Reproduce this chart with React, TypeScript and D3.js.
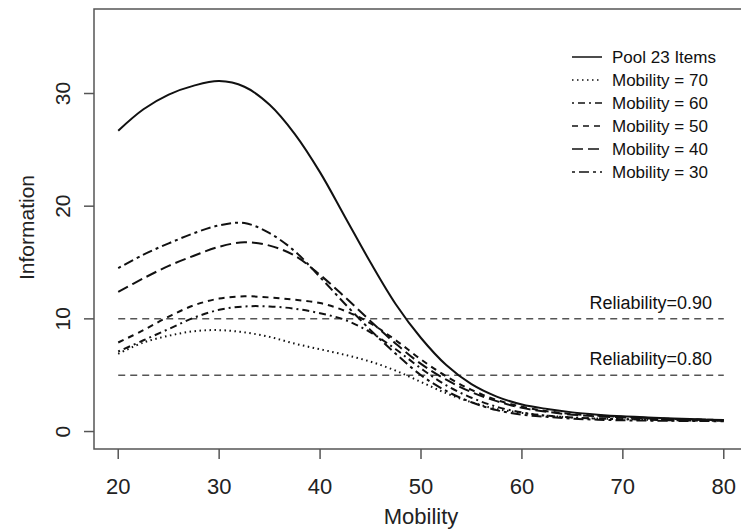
import React from 'react';
import * as d3 from 'd3';

// mobility grid shared by all curves
const mobility = [20, 22.5, 25, 27.5, 30, 32.5, 35, 37.5, 40, 42.5, 45, 47.5, 50, 52.5, 55, 57.5, 60, 62.5, 65, 67.5, 70, 72.5, 75, 77.5, 80];

const pool = [26.7, 28.6, 29.9, 30.7, 31.1, 30.6, 29.0, 26.4, 23.0, 19.0, 15.0, 11.3, 8.3, 5.9, 4.2, 3.1, 2.4, 2.0, 1.7, 1.5, 1.35, 1.25, 1.15, 1.08, 1.02];
const mob70 = [6.9, 7.9, 8.5, 8.9, 9.0, 8.8, 8.4, 7.8, 7.3, 6.8, 6.2, 5.4, 4.4, 3.4, 2.6, 2.0, 1.65, 1.4, 1.25, 1.15, 1.1, 1.05, 1.0, 0.98, 0.96];
const mob60 = [7.1, 8.1, 9.1, 10.1, 10.8, 11.1, 11.1, 10.9, 10.5, 9.9, 8.8, 7.3, 5.6, 4.1, 3.0, 2.2, 1.7, 1.4, 1.25, 1.15, 1.1, 1.05, 1.0, 0.98, 0.96];
const mob50 = [7.9, 9.0, 10.2, 11.2, 11.8, 12.0, 11.9, 11.7, 11.4, 10.7, 9.6, 8.1, 6.4, 4.9, 3.7, 2.8, 2.2, 1.8, 1.55, 1.4, 1.3, 1.2, 1.12, 1.06, 1.02];
const mob40 = [12.4, 13.6, 14.7, 15.6, 16.4, 16.8, 16.5, 15.6, 13.9, 11.9, 9.8, 7.8, 6.0, 4.6, 3.5, 2.7, 2.1, 1.75, 1.5, 1.35, 1.25, 1.15, 1.1, 1.05, 1.0];
const mob30 = [14.5, 15.7, 16.7, 17.6, 18.3, 18.5, 17.6, 16.0, 13.7, 11.3, 9.0, 6.9, 5.0, 3.6, 2.6, 1.9, 1.5, 1.3, 1.15, 1.05, 1.0, 0.97, 0.95, 0.93, 0.92];

const seriesNames = ['Pool 23 Items', 'Mobility = 70', 'Mobility = 60', 'Mobility = 50', 'Mobility = 40', 'Mobility = 30'];
const seriesValues = [pool, mob70, mob60, mob50, mob40, mob30];
const dashes = ['none', '1.5,3.5', '2,4,7,4', '6,5', '11,5', '3,4,10,4'];

const reliabilityLevels = [10, 5];
const reliabilityLabels = ['Reliability=0.90', 'Reliability=0.80'];

const xTicks = [20, 30, 40, 50, 60, 70, 80];
const yTicks = [0, 10, 20, 30];

export default function App() {
  const left = 94, top = 9, right = 748, bottom = 449;
  const x = d3.scaleLinear().domain([17.6, 82.4]).range([left, right]);
  const y = d3.scaleLinear().domain([-1.55, 37.5]).range([bottom, top]);

  const line = d3
    .line<[number, number]>()
    .x((d) => x(d[0]))
    .y((d) => y(d[1]))
    .curve(d3.curveCatmullRom.alpha(0.5));

  const font = 'Liberation Sans, Arial, sans-serif';

  return (
    <svg width={741} height={529} style={{ position: 'absolute', left: 0, top: 0 }} fontFamily={font}>
      <rect width={741} height={529} fill="#fff" />

      {/* reliability reference lines */}
      {reliabilityLevels.map((r, i) => (
        <g key={r}>
          <line x1={x(20)} x2={x(80)} y1={y(r)} y2={y(r)} stroke="#555" strokeWidth={1.5} strokeDasharray="7,5" />
          <text x={712} y={y(r) - 10} fontSize={18} textAnchor="end" fill="#111">
            {reliabilityLabels[i]}
          </text>
        </g>
      ))}

      {/* curves */}
      {seriesValues.map((vals, i) => (
        <path
          key={seriesNames[i]}
          d={line(mobility.map((m, j) => [m, vals[j]] as [number, number])) || ''}
          fill="none"
          stroke="#111"
          strokeWidth={2}
          strokeDasharray={dashes[i]}
        />
      ))}

      {/* plot box */}
      <path d={`M${right},${top}H${left}V${bottom}H${right}`} fill="none" stroke="#555" strokeWidth={1.5} />

      {/* x axis */}
      {xTicks.map((t) => (
        <g key={t}>
          <line x1={x(t)} x2={x(t)} y1={bottom} y2={bottom + 10} stroke="#555" strokeWidth={1.5} />
          <text x={x(t)} y={494} fontSize={22} textAnchor="middle" fill="#222">{t}</text>
        </g>
      ))}
      <text x={(x(20) + x(80)) / 2} y={524} fontSize={22} textAnchor="middle" fill="#222">Mobility</text>

      {/* y axis */}
      {yTicks.map((t) => (
        <g key={t}>
          <line x1={left - 10} x2={left} y1={y(t)} y2={y(t)} stroke="#555" strokeWidth={1.5} />
          <text transform={`translate(70,${y(t)}) rotate(-90)`} fontSize={21} textAnchor="middle" fill="#222">{t}</text>
        </g>
      ))}
      <text transform={`translate(34,${(y(0) + y(30)) / 2 - 35}) rotate(-90)`} fontSize={21} textAnchor="middle" fill="#222">Information</text>

      {/* legend */}
      {seriesNames.map((name, i) => {
        const ly = 57 + i * 23;
        return (
          <g key={name}>
            <line x1={572} x2={602} y1={ly} y2={ly} stroke="#111" strokeWidth={1.5} strokeDasharray={dashes[i]} />
            <text x={612} y={ly + 6} fontSize={17} fill="#111">{name}</text>
          </g>
        );
      })}
    </svg>
  );
}
